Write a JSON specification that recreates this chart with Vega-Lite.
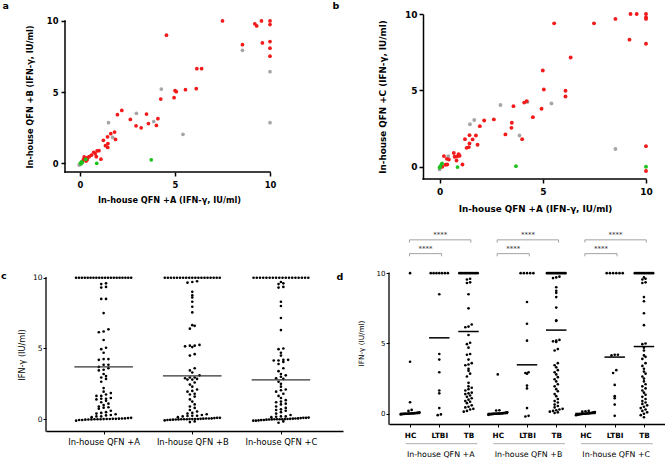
{
"$schema":"https://vega.github.io/schema/vega-lite/v6.json",
"padding":{"left":1,"top":0,"right":0,"bottom":0},
"config":{
 "view":{"stroke":null},
 "font":"DejaVu Sans",
 "axis":{"grid":false,"domainColor":"#000","tickColor":"#000","labelColor":"#000","titleColor":"#000","labelFont":"DejaVu Sans","titleFont":"DejaVu Sans","labelFlush":false,"labelOverlap":false},
 "title":{"font":"DejaVu Sans","fontSize":9.5,"fontWeight":"bold","color":"#000","anchor":"start","frame":"group","offset":0}
},
"datasets":{
 "sa":[
  {"x":8.55,"y":7.93,"g":"LTBI"},{"x":10,"y":6.43,"g":"LTBI"},{"x":10,"y":2.84,"g":"LTBI"},{"x":4.28,"y":5.21,"g":"LTBI"},{"x":5.42,"y":2.02,"g":"LTBI"},{"x":3.88,"y":2.92,"g":"LTBI"},{"x":2.97,"y":3.5,"g":"LTBI"},{"x":1.5,"y":2.84,"g":"LTBI"},{"x":1.72,"y":1.8,"g":"LTBI"},{"x":-0.05,"y":-0.14,"g":"LTBI"},{"x":0.03,"y":-0.05,"g":"LTBI"},{"x":0.0,"y":-0.1,"g":"LTBI"},
  {"x":7.5,"y":10,"g":"TB"},{"x":9.2,"y":9.8,"g":"TB"},{"x":9.3,"y":9.65,"g":"TB"},{"x":9.55,"y":10,"g":"TB"},{"x":10,"y":10,"g":"TB"},{"x":10,"y":9.75,"g":"TB"},{"x":4.55,"y":9.0,"g":"TB"},{"x":8.55,"y":8.33,"g":"TB"},{"x":9.6,"y":8.45,"g":"TB"},{"x":10,"y":8.55,"g":"TB"},{"x":10,"y":8.08,"g":"TB"},{"x":10,"y":7.52,"g":"TB"},{"x":6.15,"y":6.64,"g":"TB"},{"x":6.4,"y":6.64,"g":"TB"},{"x":6.12,"y":5.23,"g":"TB"},{"x":5.55,"y":5.16,"g":"TB"},{"x":5.0,"y":5.1,"g":"TB"},{"x":5.07,"y":5.02,"g":"TB"},{"x":4.95,"y":4.6,"g":"TB"},{"x":4.25,"y":4.5,"g":"TB"},{"x":2.2,"y":3.7,"g":"TB"},{"x":1.97,"y":3.4,"g":"TB"},{"x":3.5,"y":3.45,"g":"TB"},{"x":2.65,"y":3.07,"g":"TB"},{"x":4.1,"y":3.12,"g":"TB"},{"x":3.6,"y":2.78,"g":"TB"},{"x":2.95,"y":2.62,"g":"TB"},{"x":3.22,"y":2.48,"g":"TB"},{"x":4.02,"y":2.65,"g":"TB"},{"x":1.82,"y":2.18,"g":"TB"},{"x":1.62,"y":2.07,"g":"TB"},{"x":1.45,"y":1.85,"g":"TB"},{"x":1.87,"y":1.66,"g":"TB"},{"x":1.23,"y":1.6,"g":"TB"},{"x":1.47,"y":1.37,"g":"TB"},{"x":1.34,"y":1.22,"g":"TB"},{"x":1.46,"y":1.1,"g":"TB"},{"x":0.9,"y":0.86,"g":"TB"},{"x":1.0,"y":0.87,"g":"TB"},{"x":0.72,"y":0.76,"g":"TB"},{"x":0.8,"y":0.66,"g":"TB"},{"x":0.86,"y":0.45,"g":"TB"},{"x":1.1,"y":0.27,"g":"TB"},{"x":0.48,"y":0.45,"g":"TB"},{"x":0.4,"y":0.38,"g":"TB"},{"x":0.22,"y":0.43,"g":"TB"},{"x":0.18,"y":0.24,"g":"TB"},{"x":0.32,"y":0.14,"g":"TB"},{"x":0.12,"y":0.1,"g":"TB"},{"x":0.38,"y":0.24,"g":"TB"},{"x":0.3,"y":0.3,"g":"TB"},{"x":0.6,"y":0.55,"g":"TB"},
  {"x":3.75,"y":0.23,"g":"HC"},{"x":0.88,"y":-0.02,"g":"HC"},{"x":0.08,"y":0.08,"g":"HC"},{"x":0.3,"y":0.26,"g":"HC"},{"x":0.02,"y":0.0,"g":"HC"},{"x":0.12,"y":0.03,"g":"HC"},{"x":0.05,"y":-0.05,"g":"HC"}
 ],
 "sb":[
  {"x":8.52,"y":1.16,"g":"LTBI"},{"x":5.42,"y":4.15,"g":"LTBI"},{"x":4.26,"y":4.24,"g":"LTBI"},{"x":2.95,"y":4.04,"g":"LTBI"},{"x":3.87,"y":2.05,"g":"LTBI"},{"x":1.68,"y":3.06,"g":"LTBI"},{"x":1.47,"y":2.78,"g":"LTBI"},{"x":0.42,"y":0.7,"g":"LTBI"},{"x":0,"y":-0.17,"g":"LTBI"},{"x":0.05,"y":0.0,"g":"LTBI"},{"x":0.1,"y":0.12,"g":"LTBI"},
  {"x":9.25,"y":10,"g":"TB"},{"x":9.55,"y":10,"g":"TB"},{"x":10,"y":10,"g":"TB"},{"x":10,"y":9.78,"g":"TB"},{"x":10,"y":9.68,"g":"TB"},{"x":5.55,"y":9.39,"g":"TB"},{"x":7.48,"y":9.39,"g":"TB"},{"x":8.52,"y":9.68,"g":"TB"},{"x":9.2,"y":8.32,"g":"TB"},{"x":10,"y":8.05,"g":"TB"},{"x":6.35,"y":7.15,"g":"TB"},{"x":5.0,"y":6.3,"g":"TB"},{"x":5.05,"y":5.06,"g":"TB"},{"x":6.1,"y":4.98,"g":"TB"},{"x":6.1,"y":4.6,"g":"TB"},{"x":4.94,"y":3.8,"g":"TB"},{"x":4.52,"y":3.25,"g":"TB"},{"x":3.58,"y":3.97,"g":"TB"},{"x":4.1,"y":4.2,"g":"TB"},{"x":4.22,"y":4.3,"g":"TB"},{"x":3.5,"y":2.88,"g":"TB"},{"x":3.48,"y":2.55,"g":"TB"},{"x":3.19,"y":2.12,"g":"TB"},{"x":4.0,"y":1.81,"g":"TB"},{"x":2.63,"y":3.1,"g":"TB"},{"x":2.16,"y":3.03,"g":"TB"},{"x":1.95,"y":2.66,"g":"TB"},{"x":1.45,"y":2.07,"g":"TB"},{"x":1.76,"y":2.05,"g":"TB"},{"x":1.23,"y":1.81,"g":"TB"},{"x":1.6,"y":1.79,"g":"TB"},{"x":1.45,"y":1.53,"g":"TB"},{"x":1.84,"y":1.44,"g":"TB"},{"x":1.42,"y":1.29,"g":"TB"},{"x":1.31,"y":1.24,"g":"TB"},{"x":0.69,"y":0.9,"g":"TB"},{"x":0.92,"y":0.83,"g":"TB"},{"x":0.97,"y":0.72,"g":"TB"},{"x":0.73,"y":0.66,"g":"TB"},{"x":0.85,"y":0.68,"g":"TB"},{"x":0.21,"y":0.7,"g":"TB"},{"x":0.35,"y":0.52,"g":"TB"},{"x":0.45,"y":0.48,"g":"TB"},{"x":0.82,"y":0.41,"g":"TB"},{"x":1.11,"y":0.15,"g":"TB"},{"x":0.29,"y":0.13,"g":"TB"},{"x":0.37,"y":0.15,"g":"TB"},{"x":0.13,"y":0.0,"g":"TB"},{"x":10,"y":1.35,"g":"TB"},{"x":10,"y":-0.28,"g":"TB"},
  {"x":10,"y":0.0,"g":"HC"},{"x":3.7,"y":0.04,"g":"HC"},{"x":0.87,"y":-0.02,"g":"HC"},{"x":0.12,"y":0.22,"g":"HC"},{"x":0.05,"y":0.05,"g":"HC"},{"x":0,"y":-0.05,"g":"HC"}
 ],
 "dots":[
  {"c":"A","g":"HC","v":10},{"c":"A","g":"HC","v":3.7},{"c":"A","g":"HC","v":0.82},{"c":"A","g":"HC","v":0.27},{"c":"A","g":"HC","v":0.2},{"c":"A","g":"HC","v":0.1},{"c":"A","g":"HC","v":0.08},{"c":"A","g":"HC","v":0.06},{"c":"A","g":"HC","v":0.05},{"c":"A","g":"HC","v":0.04},{"c":"A","g":"HC","v":0.03},{"c":"A","g":"HC","v":0.03},{"c":"A","g":"HC","v":0.02},{"c":"A","g":"HC","v":0.02},{"c":"A","g":"HC","v":0.01},{"c":"A","g":"HC","v":0},{"c":"A","g":"HC","v":0},{"c":"A","g":"HC","v":0},{"c":"A","g":"HC","v":-0.01},{"c":"A","g":"HC","v":-0.02},{"c":"A","g":"HC","v":-0.03},{"c":"A","g":"HC","v":-0.05},
  {"c":"B","g":"HC","v":2.8},{"c":"B","g":"HC","v":0.25},{"c":"B","g":"HC","v":0.23},{"c":"B","g":"HC","v":0.1},{"c":"B","g":"HC","v":0.08},{"c":"B","g":"HC","v":0.06},{"c":"B","g":"HC","v":0.05},{"c":"B","g":"HC","v":0.04},{"c":"B","g":"HC","v":0.03},{"c":"B","g":"HC","v":0.02},{"c":"B","g":"HC","v":0.02},{"c":"B","g":"HC","v":0.01},{"c":"B","g":"HC","v":0.01},{"c":"B","g":"HC","v":0},{"c":"B","g":"HC","v":0},{"c":"B","g":"HC","v":0},{"c":"B","g":"HC","v":-0.01},{"c":"B","g":"HC","v":-0.02},{"c":"B","g":"HC","v":-0.03},{"c":"B","g":"HC","v":-0.04},{"c":"B","g":"HC","v":-0.05},{"c":"B","g":"HC","v":-0.08},
  {"c":"C","g":"HC","v":0.2},{"c":"C","g":"HC","v":0.18},{"c":"C","g":"HC","v":0.15},{"c":"C","g":"HC","v":0.12},{"c":"C","g":"HC","v":0.1},{"c":"C","g":"HC","v":0.08},{"c":"C","g":"HC","v":0.06},{"c":"C","g":"HC","v":0.05},{"c":"C","g":"HC","v":0.04},{"c":"C","g":"HC","v":0.03},{"c":"C","g":"HC","v":0.02},{"c":"C","g":"HC","v":0.01},{"c":"C","g":"HC","v":0},{"c":"C","g":"HC","v":0},{"c":"C","g":"HC","v":0},{"c":"C","g":"HC","v":-0.01},{"c":"C","g":"HC","v":-0.02},{"c":"C","g":"HC","v":-0.03},{"c":"C","g":"HC","v":-0.05},{"c":"C","g":"HC","v":-0.06},{"c":"C","g":"HC","v":-0.08},{"c":"C","g":"HC","v":-0.1},
  {"c":"A","g":"LTBI","v":10},{"c":"A","g":"LTBI","v":10},{"c":"A","g":"LTBI","v":10},{"c":"A","g":"LTBI","v":10},{"c":"A","g":"LTBI","v":10},{"c":"A","g":"LTBI","v":10},{"c":"A","g":"LTBI","v":10},{"c":"A","g":"LTBI","v":8.5},{"c":"A","g":"LTBI","v":4.25},{"c":"A","g":"LTBI","v":3.85},{"c":"A","g":"LTBI","v":2.95},{"c":"A","g":"LTBI","v":1.65},{"c":"A","g":"LTBI","v":1.45},{"c":"A","g":"LTBI","v":0.4},{"c":"A","g":"LTBI","v":-0.1},{"c":"A","g":"LTBI","v":-0.05},
  {"c":"B","g":"LTBI","v":10},{"c":"B","g":"LTBI","v":10},{"c":"B","g":"LTBI","v":10},{"c":"B","g":"LTBI","v":10},{"c":"B","g":"LTBI","v":10},{"c":"B","g":"LTBI","v":7.95},{"c":"B","g":"LTBI","v":6.4},{"c":"B","g":"LTBI","v":5.2},{"c":"B","g":"LTBI","v":2.95},{"c":"B","g":"LTBI","v":2.9},{"c":"B","g":"LTBI","v":2.85},{"c":"B","g":"LTBI","v":2.0},{"c":"B","g":"LTBI","v":1.8},{"c":"B","g":"LTBI","v":0.4},{"c":"B","g":"LTBI","v":-0.2},{"c":"B","g":"LTBI","v":-0.15},
  {"c":"C","g":"LTBI","v":10},{"c":"C","g":"LTBI","v":10},{"c":"C","g":"LTBI","v":10},{"c":"C","g":"LTBI","v":10},{"c":"C","g":"LTBI","v":10},{"c":"C","g":"LTBI","v":10},{"c":"C","g":"LTBI","v":4.2},{"c":"C","g":"LTBI","v":4.15},{"c":"C","g":"LTBI","v":4.2},{"c":"C","g":"LTBI","v":3.1},{"c":"C","g":"LTBI","v":2.9},{"c":"C","g":"LTBI","v":2.05},{"c":"C","g":"LTBI","v":1.25},{"c":"C","g":"LTBI","v":1.1},{"c":"C","g":"LTBI","v":0.65},{"c":"C","g":"LTBI","v":-0.15},
  {"c":"A","g":"TB","v":10},{"c":"A","g":"TB","v":10},{"c":"A","g":"TB","v":10},{"c":"A","g":"TB","v":10},{"c":"A","g":"TB","v":10},{"c":"A","g":"TB","v":10},{"c":"A","g":"TB","v":10},{"c":"A","g":"TB","v":10},{"c":"A","g":"TB","v":10},{"c":"A","g":"TB","v":10},{"c":"A","g":"TB","v":10},{"c":"A","g":"TB","v":10},{"c":"A","g":"TB","v":9.6},{"c":"A","g":"TB","v":9.55},{"c":"A","g":"TB","v":9.35},{"c":"A","g":"TB","v":9.3},{"c":"A","g":"TB","v":8.5},{"c":"A","g":"TB","v":7.5},{"c":"A","g":"TB","v":6.35},{"c":"A","g":"TB","v":6.2},{"c":"A","g":"TB","v":6.15},{"c":"A","g":"TB","v":5.6},{"c":"A","g":"TB","v":5.05},{"c":"A","g":"TB","v":4.95},{"c":"A","g":"TB","v":4.7},{"c":"A","g":"TB","v":4.25},{"c":"A","g":"TB","v":4.2},{"c":"A","g":"TB","v":3.85},{"c":"A","g":"TB","v":3.6},{"c":"A","g":"TB","v":3.5},{"c":"A","g":"TB","v":3.45},{"c":"A","g":"TB","v":3.2},{"c":"A","g":"TB","v":3.05},{"c":"A","g":"TB","v":2.85},{"c":"A","g":"TB","v":2.65},{"c":"A","g":"TB","v":2.2},{"c":"A","g":"TB","v":1.95},{"c":"A","g":"TB","v":1.85},{"c":"A","g":"TB","v":1.75},{"c":"A","g":"TB","v":1.65},{"c":"A","g":"TB","v":1.5},{"c":"A","g":"TB","v":1.45},{"c":"A","g":"TB","v":1.4},{"c":"A","g":"TB","v":1.3},{"c":"A","g":"TB","v":1.2},{"c":"A","g":"TB","v":1.1},{"c":"A","g":"TB","v":1.0},{"c":"A","g":"TB","v":0.9},{"c":"A","g":"TB","v":0.85},{"c":"A","g":"TB","v":0.75},{"c":"A","g":"TB","v":0.6},{"c":"A","g":"TB","v":0.5},{"c":"A","g":"TB","v":0.45},{"c":"A","g":"TB","v":0.35},{"c":"A","g":"TB","v":0.3},{"c":"A","g":"TB","v":0.2},{"c":"A","g":"TB","v":0.15},
  {"c":"B","g":"TB","v":10},{"c":"B","g":"TB","v":10},{"c":"B","g":"TB","v":10},{"c":"B","g":"TB","v":10},{"c":"B","g":"TB","v":10},{"c":"B","g":"TB","v":10},{"c":"B","g":"TB","v":10},{"c":"B","g":"TB","v":10},{"c":"B","g":"TB","v":10},{"c":"B","g":"TB","v":10},{"c":"B","g":"TB","v":10},{"c":"B","g":"TB","v":10},{"c":"B","g":"TB","v":10},{"c":"B","g":"TB","v":10},{"c":"B","g":"TB","v":9.75},{"c":"B","g":"TB","v":9.7},{"c":"B","g":"TB","v":9.65},{"c":"B","g":"TB","v":9.0},{"c":"B","g":"TB","v":8.75},{"c":"B","g":"TB","v":8.6},{"c":"B","g":"TB","v":8.3},{"c":"B","g":"TB","v":7.55},{"c":"B","g":"TB","v":6.65},{"c":"B","g":"TB","v":6.6},{"c":"B","g":"TB","v":5.25},{"c":"B","g":"TB","v":5.2},{"c":"B","g":"TB","v":5.15},{"c":"B","g":"TB","v":5.1},{"c":"B","g":"TB","v":4.6},{"c":"B","g":"TB","v":4.5},{"c":"B","g":"TB","v":3.6},{"c":"B","g":"TB","v":3.45},{"c":"B","g":"TB","v":3.3},{"c":"B","g":"TB","v":3.1},{"c":"B","g":"TB","v":2.95},{"c":"B","g":"TB","v":2.8},{"c":"B","g":"TB","v":2.6},{"c":"B","g":"TB","v":2.45},{"c":"B","g":"TB","v":2.3},{"c":"B","g":"TB","v":2.1},{"c":"B","g":"TB","v":1.95},{"c":"B","g":"TB","v":1.75},{"c":"B","g":"TB","v":1.6},{"c":"B","g":"TB","v":1.4},{"c":"B","g":"TB","v":1.25},{"c":"B","g":"TB","v":1.05},{"c":"B","g":"TB","v":0.9},{"c":"B","g":"TB","v":0.8},{"c":"B","g":"TB","v":0.65},{"c":"B","g":"TB","v":0.55},{"c":"B","g":"TB","v":0.45},{"c":"B","g":"TB","v":0.35},{"c":"B","g":"TB","v":0.3},{"c":"B","g":"TB","v":0.25},{"c":"B","g":"TB","v":0.2},{"c":"B","g":"TB","v":0.15},{"c":"B","g":"TB","v":0.1},{"c":"B","g":"TB","v":0.05},
  {"c":"C","g":"TB","v":10},{"c":"C","g":"TB","v":10},{"c":"C","g":"TB","v":10},{"c":"C","g":"TB","v":10},{"c":"C","g":"TB","v":10},{"c":"C","g":"TB","v":10},{"c":"C","g":"TB","v":10},{"c":"C","g":"TB","v":10},{"c":"C","g":"TB","v":10},{"c":"C","g":"TB","v":10},{"c":"C","g":"TB","v":10},{"c":"C","g":"TB","v":10},{"c":"C","g":"TB","v":9.7},{"c":"C","g":"TB","v":9.6},{"c":"C","g":"TB","v":9.55},{"c":"C","g":"TB","v":9.35},{"c":"C","g":"TB","v":9.3},{"c":"C","g":"TB","v":8.3},{"c":"C","g":"TB","v":8.0},{"c":"C","g":"TB","v":7.15},{"c":"C","g":"TB","v":6.3},{"c":"C","g":"TB","v":5.0},{"c":"C","g":"TB","v":4.95},{"c":"C","g":"TB","v":4.7},{"c":"C","g":"TB","v":4.5},{"c":"C","g":"TB","v":4.15},{"c":"C","g":"TB","v":4.05},{"c":"C","g":"TB","v":3.9},{"c":"C","g":"TB","v":3.6},{"c":"C","g":"TB","v":3.4},{"c":"C","g":"TB","v":3.2},{"c":"C","g":"TB","v":3.0},{"c":"C","g":"TB","v":2.85},{"c":"C","g":"TB","v":2.65},{"c":"C","g":"TB","v":2.5},{"c":"C","g":"TB","v":2.3},{"c":"C","g":"TB","v":2.1},{"c":"C","g":"TB","v":1.95},{"c":"C","g":"TB","v":1.8},{"c":"C","g":"TB","v":1.65},{"c":"C","g":"TB","v":1.5},{"c":"C","g":"TB","v":1.35},{"c":"C","g":"TB","v":1.2},{"c":"C","g":"TB","v":1.05},{"c":"C","g":"TB","v":0.9},{"c":"C","g":"TB","v":0.8},{"c":"C","g":"TB","v":0.7},{"c":"C","g":"TB","v":0.6},{"c":"C","g":"TB","v":0.5},{"c":"C","g":"TB","v":0.4},{"c":"C","g":"TB","v":0.3},{"c":"C","g":"TB","v":0.2},{"c":"C","g":"TB","v":0.1},{"c":"C","g":"TB","v":0.0},{"c":"C","g":"TB","v":-0.1},{"c":"C","g":"TB","v":-0.25}
 ],
 "mc":[{"c":"A","m":3.7},{"c":"B","m":3.06},{"c":"C","m":2.78}],
 "md":[{"c":"A","g":"HC","m":0.02},{"c":"A","g":"LTBI","m":5.4},{"c":"A","g":"TB","m":5.85},{"c":"B","g":"HC","m":0.02},{"c":"B","g":"LTBI","m":3.48},{"c":"B","g":"TB","m":5.95},{"c":"C","g":"HC","m":0.02},{"c":"C","g":"LTBI","m":4.03},{"c":"C","g":"TB","m":4.78}],
 "br":[{"c":"A","s":1},{"c":"A","s":2},{"c":"B","s":1},{"c":"B","s":2},{"c":"C","s":1},{"c":"C","s":2}],
 "grp":[{"c":"A","label":"In-house QFN +A"},{"c":"B","label":"In-house QFN +B"},{"c":"C","label":"In-house QFN +C"}]
},
"bounds":"flush",
"columns":2,
"spacing":{"row":52,"column":46},
"concat":[
 {"width":224,"height":158,
  "title":{"text":"a","dx":-43.5,"dy":8.5,"baseline":"alphabetic"},
  "layer":[
   {"data":{"name":"sa"},
    "mark":{"type":"circle","size":14,"opacity":1},
    "encoding":{
     "x":{"field":"x","type":"quantitative","scale":{"domain":[-1.79,10],"nice":false,"zero":false},"axis":{"values":[0,5,10],"domain":false,"title":"In-house QFN +A (IFN-γ, IU/ml)","titleX":123,"labelFontSize":8.4,"labelFontWeight":"bold","titleFontSize":8.2,"titleFontWeight":"bold","tickWidth":1.5,"tickSize":4,"labelPadding":4,"titlePadding":8}},
     "y":{"field":"y","type":"quantitative","scale":{"domain":[-0.63,10.49],"nice":false,"zero":false},"axis":{"values":[0,5,10],"domain":false,"offset":-19,"title":"In-house QFN +B (IFN-γ, IU/ml)","titleX":-35,"titleY":82.5,"titleBaseline":"middle","labelFontSize":8.4,"labelFontWeight":"bold","titleFontSize":8.2,"titleFontWeight":"bold","tickWidth":1.5,"tickSize":4,"labelPadding":3}},
     "color":{"field":"g","type":"nominal","scale":{"domain":["HC","LTBI","TB"],"range":["#1ec21e","#a6a6a6","#f21a1a"]},"legend":null}
    }},
   {"data":{"values":[{"k":0}]},"mark":{"type":"rule","color":"#000","strokeWidth":1.5,"strokeCap":"square"},
    "encoding":{"x":{"datum":-0.79,"type":"quantitative"},"x2":{"datum":10},"y":{"datum":-0.63,"type":"quantitative"}}},
   {"data":{"values":[{"k":0}]},"mark":{"type":"rule","color":"#000","strokeWidth":1.5,"strokeCap":"square"},
    "encoding":{"x":{"datum":-0.79,"type":"quantitative"},"y":{"datum":-0.63,"type":"quantitative"},"y2":{"datum":10}}}
  ]},
 {"width":257,"height":165,
  "title":{"text":"b","dx":-56.5,"dy":12,"baseline":"alphabetic"},
  "layer":[
   {"data":{"name":"sb"},
    "mark":{"type":"circle","size":15,"opacity":1},
    "encoding":{
     "x":{"field":"x","type":"quantitative","scale":{"domain":[-2.45,10],"nice":false,"zero":false},"axis":{"values":[0,5,10],"domain":false,"title":"In-house QFN +A (IFN-γ, IU/ml)","titleX":146,"labelFontSize":9,"labelFontWeight":"bold","titleFontSize":8.8,"titleFontWeight":"bold","tickWidth":1.5,"tickSize":4,"labelPadding":4,"titlePadding":8}},
     "y":{"field":"y","type":"quantitative","scale":{"domain":[-0.8,10],"nice":false,"zero":false},"axis":{"values":[0,5,10],"offset":-34,"title":"In-house QFN +C (IFN-γ, IU/ml)","labelFontSize":9,"labelFontWeight":"bold","titleFontSize":8.8,"titleFontWeight":"bold","domainWidth":1.5,"tickWidth":1.5,"tickSize":4,"labelPadding":2,"titlePadding":17}},
     "color":{"field":"g","type":"nominal","scale":{"domain":["HC","LTBI","TB"],"range":["#1ec21e","#a6a6a6","#f21a1a"]},"legend":null}
    }},
   {"data":{"values":[{"k":0}]},"mark":{"type":"rule","color":"#000","strokeWidth":1.5,"strokeCap":"square"},
    "encoding":{"x":{"datum":-0.8,"type":"quantitative"},"x2":{"datum":10},"y":{"datum":-0.8,"type":"quantitative"}}}
  ]},
 {"width":297,"height":200,
  "title":{"text":"c","dx":-45,"dy":61.5,"baseline":"alphabetic"},
  "layer":[
   {"data":{"name":"dots"},
    "transform":[
     {"calculate":"round(datum.v*4)","as":"bn"},
     {"window":[{"op":"row_number","as":"rk"}],"groupby":["c","bn"],"sort":[{"field":"v","order":"ascending"}]},
     {"joinaggregate":[{"op":"count","as":"n"}],"groupby":["c","bn"]},
     {"calculate":"indexof(['A','B','C'],datum.c)+(datum.rk-(datum.n+1)/2)*min(4.8,58/datum.n)/88.66","as":"xp"}
    ],
    "mark":{"type":"circle","size":7,"color":"#000","opacity":1},
    "encoding":{
     "x":{"field":"xp","type":"quantitative","scale":{"domain":[-0.65,2.7],"nice":false,"zero":false},"axis":{"values":[0,1,2],"tickCount":3,"labelExpr":"['In-house QFN +A','In-house QFN +B','In-house QFN +C'][datum.value]","labelOverlap":false,"title":null,"labelFontSize":8.4,"domainWidth":1.3,"tickWidth":1,"tickSize":3,"labelPadding":3}},
     "y":{"field":"v","type":"quantitative","scale":{"domain":[-0.83,13.3],"nice":false,"zero":false},"axis":{"values":[0,5,10],"domain":false,"title":"IFN-γ (IU/ml)","titleX":-23.3,"titleY":123.5,"titleBaseline":"middle","titleFontSize":8.2,"titleFontWeight":"normal","labelFontSize":7.5,"tickWidth":1,"tickSize":3,"labelPadding":1}}
    }},
   {"data":{"name":"mc"},
    "transform":[{"calculate":"indexof(['A','B','C'],datum.c)-0.33","as":"x1"},{"calculate":"indexof(['A','B','C'],datum.c)+0.33","as":"x2"}],
    "mark":{"type":"rule","color":"#333","strokeWidth":1.2},
    "encoding":{"x":{"field":"x1","type":"quantitative"},"x2":{"field":"x2"},"y":{"field":"m","type":"quantitative"}}},
   {"data":{"values":[{"k":0}]},"mark":{"type":"rule","color":"#000","strokeWidth":1.3,"strokeCap":"square"},
    "encoding":{"x":{"datum":-0.65,"type":"quantitative"},"y":{"datum":-0.83,"type":"quantitative"},"y2":{"datum":10}}}
  ]},
 {"width":276,"height":193,
  "title":{"text":"d","dx":-52.5,"dy":62,"baseline":"alphabetic"},
  "layer":[
   {"data":{"name":"dots"},
    "transform":[
     {"calculate":"round(datum.v*4)","as":"bn"},
     {"window":[{"op":"row_number","as":"rk"}],"groupby":["c","g","bn"],"sort":[{"field":"v","order":"ascending"}]},
     {"joinaggregate":[{"op":"count","as":"n"}],"groupby":["c","g","bn"]},
     {"calculate":"indexof(['A','B','C'],datum.c)*3+indexof(['HC','LTBI','TB'],datum.g)+(datum.rk-(datum.n+1)/2)*min(3.2,20/datum.n)/29.24","as":"xp"}
    ],
    "mark":{"type":"circle","size":7,"color":"#000","opacity":1},
    "encoding":{
     "x":{"field":"xp","type":"quantitative","scale":{"domain":[-0.72,8.72],"nice":false,"zero":false},"axis":{"values":[0,1,2,3,4,5,6,7,8],"tickCount":10,"labelExpr":"['HC','LTBI','TB'][datum.value % 3]","labelOverlap":false,"labelSeparation":0,"title":null,"labelFontSize":7.3,"labelFontWeight":"bold","domainWidth":1.3,"tickWidth":1,"tickSize":3,"labelPadding":4}},
     "y":{"field":"v","type":"quantitative","scale":{"domain":[-0.73,13],"nice":false,"zero":false},"axis":{"values":[0,5,10],"domain":false,"title":"IFN-γ (IU/ml)","titleX":-28,"titleY":112,"titleBaseline":"middle","titleFontSize":7.3,"titleFontWeight":"normal","labelFontSize":7,"tickWidth":1,"tickSize":3,"labelPadding":1}}
    }},
   {"data":{"name":"md"},
    "transform":[{"calculate":"indexof(['A','B','C'],datum.c)*3+indexof(['HC','LTBI','TB'],datum.g)","as":"i"},{"calculate":"datum.i-0.35","as":"x1"},{"calculate":"datum.i+0.35","as":"x2"}],
    "mark":{"type":"rule","color":"#000","strokeWidth":1.5},
    "encoding":{"x":{"field":"x1","type":"quantitative"},"x2":{"field":"x2"},"y":{"field":"m","type":"quantitative"}}},
   {"data":{"values":[{"k":0}]},
    "mark":{"type":"rule","color":"#000","strokeWidth":1.3,"strokeCap":"square"},
    "encoding":{"x":{"datum":-0.72,"type":"quantitative"},"y":{"datum":-0.73,"type":"quantitative"},"y2":{"datum":10}}},
   {"data":{"name":"br"},
    "transform":[
     {"calculate":"indexof(['A','B','C'],datum.c)*3","as":"b"},
     {"calculate":"datum.b-0.02","as":"x1"},
     {"calculate":"datum.b+datum.s+0.08","as":"x2"},
     {"calculate":"(datum.x1+datum.x2)/2","as":"xm"},
     {"calculate":"datum.s==1?11.39:12.37","as":"yb"},
     {"calculate":"datum.yb-0.19","as":"yl"},
     {"calculate":"datum.yb+0.34","as":"ys"}
    ],
    "layer":[
     {"mark":{"type":"rule","color":"#8a8a8a","strokeWidth":0.8},"encoding":{"x":{"field":"x1","type":"quantitative"},"x2":{"field":"x2"},"y":{"field":"yb","type":"quantitative"}}},
     {"mark":{"type":"rule","color":"#8a8a8a","strokeWidth":0.8},"encoding":{"x":{"field":"x1","type":"quantitative"},"y":{"field":"yb","type":"quantitative"},"y2":{"field":"yl"}}},
     {"mark":{"type":"rule","color":"#8a8a8a","strokeWidth":0.8},"encoding":{"x":{"field":"x2","type":"quantitative"},"y":{"field":"yb","type":"quantitative"},"y2":{"field":"yl"}}},
     {"mark":{"type":"text","fontSize":7,"color":"#333","baseline":"middle","align":"center"},"encoding":{"x":{"field":"xm","type":"quantitative"},"y":{"field":"ys","type":"quantitative"},"text":{"value":"****"}}}
    ]},
   {"data":{"name":"grp"},
    "transform":[{"calculate":"indexof(['A','B','C'],datum.c)*3","as":"b"},{"calculate":"datum.b-0.15","as":"x1"},{"calculate":"datum.b+2.3","as":"x2"},{"calculate":"datum.b+1.05","as":"xm"}],
    "layer":[
     {"mark":{"type":"rule","color":"#999","strokeWidth":0.8},"encoding":{"x":{"field":"x1","type":"quantitative"},"x2":{"field":"x2"},"y":{"datum":-2.13,"type":"quantitative"}}},
     {"mark":{"type":"text","fontSize":7.9,"color":"#000","baseline":"middle","align":"center"},"encoding":{"x":{"field":"xm","type":"quantitative"},"y":{"datum":-2.91,"type":"quantitative"},"text":{"field":"label"}}}
    ]}
  ]}
]
}
